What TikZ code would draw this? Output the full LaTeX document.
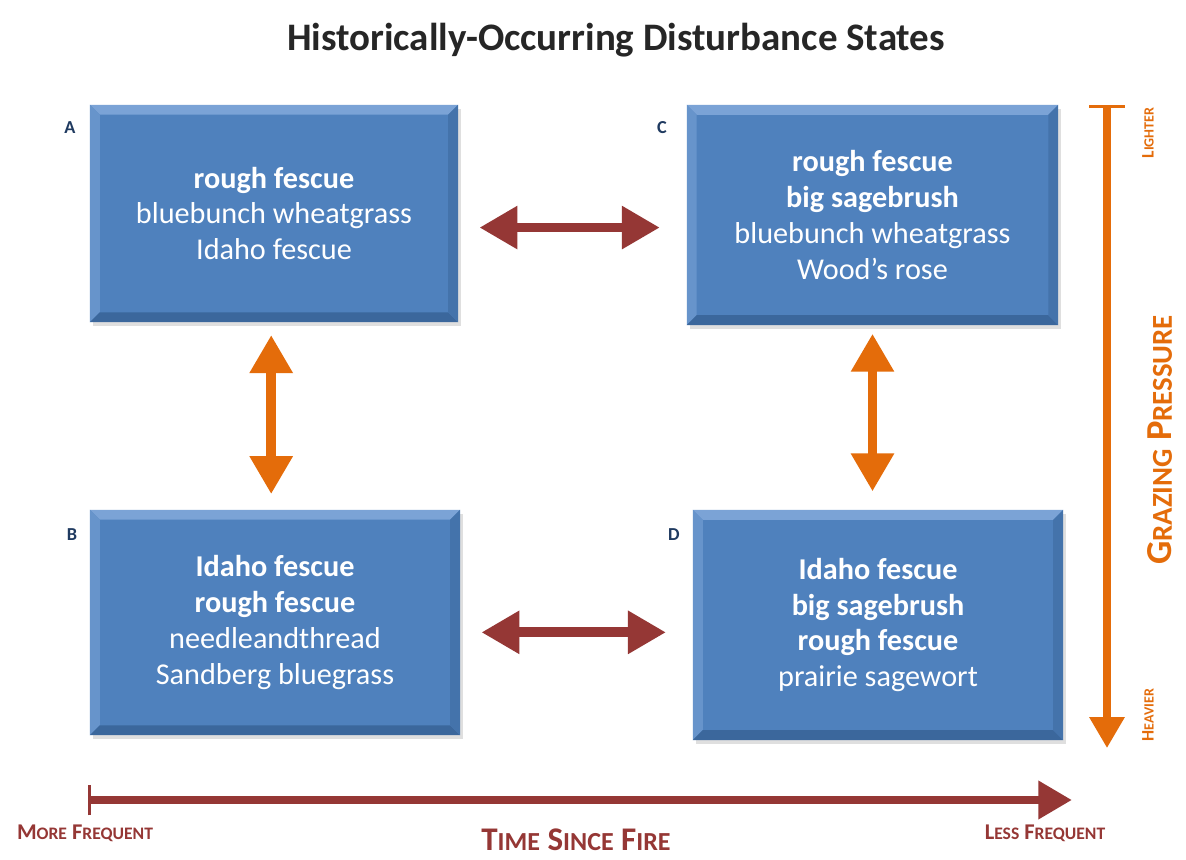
\documentclass[tikz,border=0pt]{standalone}
\usepackage{fontspec}
\setmainfont{Carlito}
\usetikzlibrary{arrows.meta,positioning,shadows,calc}

\definecolor{boxblue}{HTML}{4F81BD}
\definecolor{boxlight}{HTML}{7BA3D6}
\definecolor{boxdark}{HTML}{3B679C}
\definecolor{firered}{HTML}{953735}
\definecolor{grazeorange}{HTML}{E46C0A}
\definecolor{letterblue}{HTML}{1F3A60}

% fake small caps: big letter, then the rest at size #1
\newcommand\scw[3]{#2{\fontsize{#1}{#1}\selectfont #3}}

\begin{document}
\begin{tikzpicture}[x=0.025cm,y=-0.025cm,>=Triangle,
	statebox/.style={fill=boxblue,text=white,align=center,inner sep=0pt,
		font=\fontsize{21.5}{25.5}\selectfont,
		drop shadow={shadow xshift=2pt,shadow yshift=-3pt,opacity=0.25},
		path picture={
			\path (path picture bounding box.north west) coordinate (nw)
			      (path picture bounding box.north east) coordinate (ne)
			      (path picture bounding box.south west) coordinate (sw)
			      (path picture bounding box.south east) coordinate (se);
			\fill[boxlight] (nw)--(ne)--([shift={(-7pt,-7pt)}]ne)--([shift={(7pt,-7pt)}]nw)--cycle;
			\fill[boxlight!55!boxblue] (nw)--(sw)--([shift={(7pt,7pt)}]sw)--([shift={(7pt,-7pt)}]nw)--cycle;
			\fill[boxdark] (sw)--(se)--([shift={(-7pt,7pt)}]se)--([shift={(7pt,7pt)}]sw)--cycle;
			\fill[boxdark!55!boxblue] (ne)--(se)--([shift={(-7pt,7pt)}]se)--([shift={(-7pt,-7pt)}]ne)--cycle;
		}},
	letter/.style={text=letterblue,font=\fontsize{13}{13}\selectfont\bfseries},
	redarrow/.style={draw=firered,line width=7pt,{Triangle[length=27pt,width=29pt]}-{Triangle[length=27pt,width=29pt]}},
	orangearrow/.style={draw=grazeorange,line width=7pt,{Triangle[length=27pt,width=29pt]}-{Triangle[length=27pt,width=29pt]}},
	axislabel/.style={inner sep=0pt}]

	\useasboundingbox[fill=white] (0,0) rectangle (1186,860);

	\node[font=\fontsize{27.7}{30}\selectfont\bfseries,text=black!85] (title) at (616,40) {Historically-Occurring Disturbance States};

	% the four states
	\node[statebox,minimum width=9.2cm,minimum height=5.43cm] (A) at (274,213.5)
		{\textbf{rough fescue}\\bluebunch wheatgrass\\Idaho fescue};
	\node[statebox,minimum width=9.28cm,minimum height=5.5cm] (C) at (872.5,215)
		{\textbf{rough fescue}\\\textbf{big sagebrush}\\bluebunch wheatgrass\\Wood’s rose};
	\node[statebox,minimum width=9.25cm,minimum height=5.63cm] (B) at (275,622.5)
		{\textbf{Idaho fescue}\\\textbf{rough fescue}\\needleandthread\\Sandberg bluegrass};
	\node[statebox,minimum width=9.25cm,minimum height=5.75cm] (D) at (878,625)
		{\textbf{Idaho fescue}\\\textbf{big sagebrush}\\\textbf{rough fescue}\\prairie sagewort};

	\node[letter] (lA) at (70,128) {A};
	\node[letter] (lC) at (662,128) {C};
	\node[letter] (lB) at (72,535) {B};
	\node[letter] (lD) at (674,535) {D};

	% transitions
	\draw[redarrow,shorten <=15pt,shorten >=19pt] ([yshift=-10pt]A.east) -- ([yshift=-10pt]A.east -| C.west);
	\draw[redarrow,shorten <=15pt,shorten >=19pt] ([yshift=-7pt]B.east) -- ([yshift=-7pt]B.east -| D.west);
	\draw[orangearrow,shorten <=9pt,shorten >=11pt] ([xshift=-2pt]A.south) -- ([xshift=-2pt]A.south |- B.north);
	\draw[orangearrow,shorten <=6pt,shorten >=13pt] (C.south) -- (C.south |- D.north);

	% grazing pressure axis
	\coordinate (gtop) at (1107,105);
	\coordinate (gbot) at (1107,748);
	\draw[draw=grazeorange,line width=5pt,{Bar[width=25pt,line width=2pt]}-{Triangle[length=22pt,width=24pt]}] (gtop) -- (gbot);
	\node[axislabel,rotate=90,text=grazeorange,font=\fontsize{12.5}{12.5}\selectfont\bfseries] (lighter) at (1148,133) {\scw{10}{L}{IGHTER}};
	\node[axislabel,rotate=90,text=grazeorange,font=\fontsize{12.5}{12.5}\selectfont\bfseries] (heavier) at (1148,715) {\scw{10}{H}{EAVIER}};
	\node[axislabel,rotate=90,text=grazeorange,font=\fontsize{26}{26}\selectfont\bfseries] (grazing) at (1160,440) {\scw{20.5}{G}{RAZING} \scw{20.5}{P}{RESSURE}};

	% time since fire axis
	\coordinate (tleft) at (88,800);
	\coordinate (tright) at (1072,800);
	\draw[draw=firered,line width=6pt,{Bar[width=22pt,line width=2pt]}-{Triangle[length=24pt,width=26pt]}] (tleft) -- (tright);
	\node[axislabel,text=firered,font=\fontsize{16}{16}\selectfont\bfseries] (more) at (85,833) {\scw{12.5}{M}{ORE} \scw{12.5}{F}{REQUENT}};
	\node[axislabel,text=firered,font=\fontsize{16}{16}\selectfont\bfseries] (less) at (1045,833) {\scw{12.5}{L}{ESS} \scw{12.5}{F}{REQUENT}};
	\node[axislabel,text=firered,font=\fontsize{23.5}{23.5}\selectfont\bfseries] (time) at (576,840) {\scw{18.5}{T}{IME} \scw{18.5}{S}{INCE} \scw{18.5}{F}{IRE}};
\end{tikzpicture}
\end{document}
